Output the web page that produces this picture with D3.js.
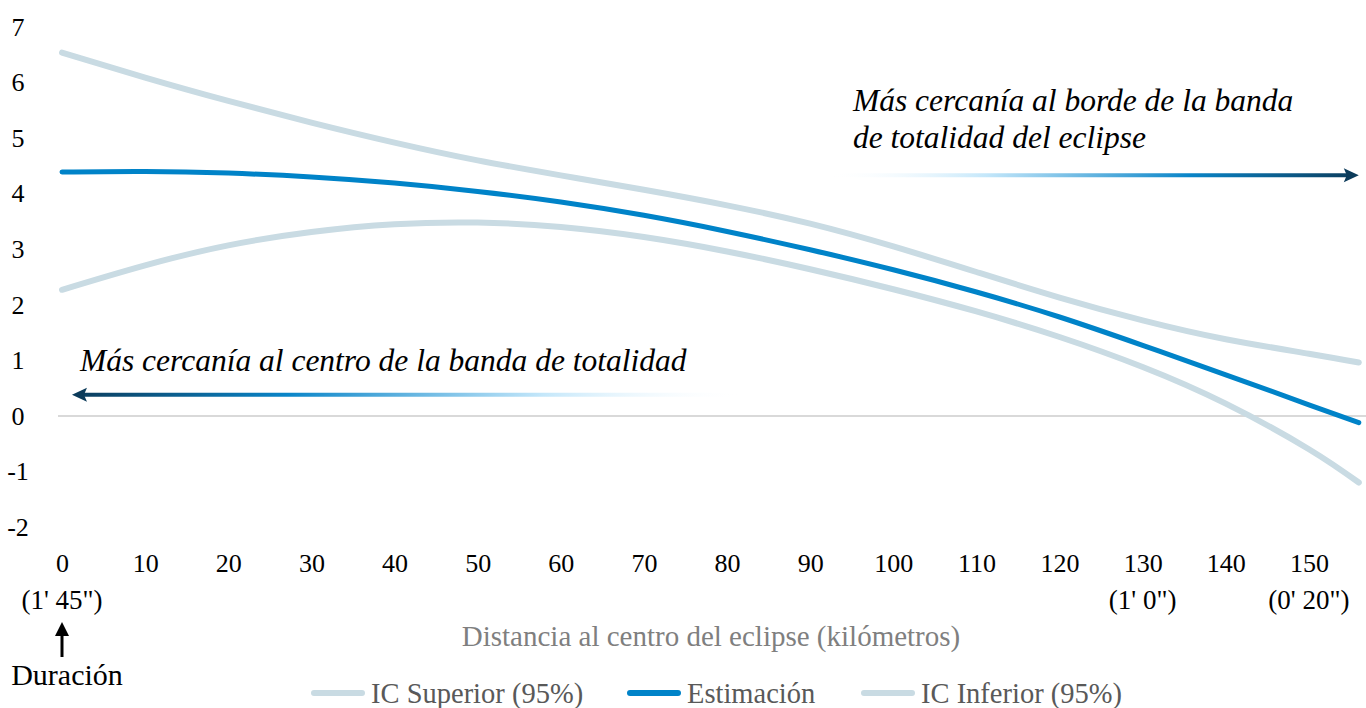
<!DOCTYPE html>
<html>
<head>
<meta charset="utf-8">
<script src="https://cdn.jsdelivr.net/npm/d3@7"></script>
<style>
  body { margin: 0; background: #fff; }
  svg { display: block; font-family: "Liberation Serif", serif; }
</style>
</head>
<body>
<svg id="canvas"></svg>
<script>
// distance to eclipse centre (km) and the three series
let distKm = [0, 10, 20, 30, 40, 50, 60, 70, 80, 90, 100, 110, 120, 130, 140, 150, 156]
let icSup  = [6.54, 6.09, 5.67, 5.28, 4.92, 4.60, 4.33, 4.07, 3.79, 3.46, 3.05, 2.59, 2.13, 1.72, 1.38, 1.12, 0.96]
let estim  = [4.39, 4.40, 4.37, 4.30, 4.19, 4.04, 3.85, 3.61, 3.32, 2.99, 2.63, 2.23, 1.78, 1.27, 0.74, 0.20, -0.12]
let icInf  = [2.27, 2.71, 3.07, 3.31, 3.45, 3.48, 3.40, 3.22, 2.96, 2.64, 2.28, 1.88, 1.42, 0.88, 0.22, -0.60, -1.20]

let xTicks = [0, 10, 20, 30, 40, 50, 60, 70, 80, 90, 100, 110, 120, 130, 140, 150]
let yTicks = [-2, -1, 0, 1, 2, 3, 4, 5, 6, 7]
let durLabels = [[0, "(1' 45\")"], [130, "(1' 0\")"], [150, "(0' 20\")"]]

let seriesNames = ['IC Superior (95%)', 'Estimación', 'IC Inferior (95%)']

let width = 1366
let height = 708

let ciColor = '#c9dbe3'
let estColor = '#0083c8'

let canvas = d3.select('#canvas')
canvas.attr('width', width).attr('height', height)

let xScale = d3.scaleLinear().domain([0, 156]).range([62, 1358.8])
let yScale = d3.scaleLinear().domain([-2, 7]).range([527, 27])

// zero gridline
canvas.append('line')
      .attr('x1', xScale(0) - 4).attr('x2', width)
      .attr('y1', yScale(0)).attr('y2', yScale(0))
      .attr('stroke', '#d9d9d9').attr('stroke-width', 2)

// y axis labels
let yAxis = d3.axisLeft(yScale).tickValues(yTicks).tickSize(0).tickPadding(0)
              .tickFormat(d => String(d))
let gy = canvas.append('g').attr('transform', 'translate(18,0)').call(yAxis)
gy.select('.domain').remove()
gy.selectAll('text')
  .attr('text-anchor', 'middle')
  .style('font-family', '"Liberation Serif", serif')
  .style('font-size', '26px')
  .attr('fill', '#000')

// x axis labels
let xAxis = d3.axisBottom(xScale).tickValues(xTicks).tickSize(0).tickPadding(0)
let gx = canvas.append('g').attr('transform', 'translate(0,554)').call(xAxis)
gx.select('.domain').remove()
gx.selectAll('text')
  .style('font-family', '"Liberation Serif", serif')
  .style('font-size', '26px')
  .attr('fill', '#000')

canvas.append('g').selectAll('text')
      .data(durLabels)
      .enter()
      .append('text')
      .attr('x', d => xScale(d[0]))
      .attr('y', 609)
      .attr('text-anchor', 'middle')
      .style('font-size', '27px')
      .text(d => d[1])

// axis title
canvas.append('text')
      .attr('x', 711).attr('y', 646)
      .attr('text-anchor', 'middle')
      .attr('fill', '#7f7f7f')
      .style('font-size', '29px')
      .text('Distancia al centro del eclipse (kilómetros)')

// Duración pointer
canvas.append('line')
      .attr('x1', xScale(0)).attr('x2', xScale(0))
      .attr('y1', 657).attr('y2', 632)
      .attr('stroke', '#000').attr('stroke-width', 3)
canvas.append('path')
      .attr('d', `M${xScale(0) - 7},636 L${xScale(0)},622 L${xScale(0) + 7},636 Z`)
      .attr('fill', '#000')
canvas.append('text')
      .attr('x', 67).attr('y', 685)
      .attr('text-anchor', 'middle')
      .style('font-size', '30px')
      .text('Duración')

// lines
let line = d3.line()
             .x((d, i) => xScale(distKm[i]))
             .y(d => yScale(d))
             .curve(d3.curveNatural)

let series = [
  {name: seriesNames[0], values: icSup, color: ciColor, w: 6},
  {name: seriesNames[1], values: estim, color: estColor, w: 5},
  {name: seriesNames[2], values: icInf, color: ciColor, w: 6}
]

canvas.append('g').selectAll('path')
      .data([series[0], series[2], series[1]])
      .enter()
      .append('path')
      .attr('d', d => line(d.values))
      .attr('fill', 'none')
      .attr('stroke', d => d.color)
      .attr('stroke-width', d => d.w)
      .attr('stroke-linecap', 'round')
      .attr('stroke-linejoin', 'round')

// gradient arrows
let defs = canvas.append('defs')
let makeGrad = (id, x1, x2) => {
  let g = defs.append('linearGradient')
              .attr('id', id)
              .attr('gradientUnits', 'userSpaceOnUse')
              .attr('x1', x1).attr('x2', x2).attr('y1', 0).attr('y2', 0)
  g.append('stop').attr('offset', 0).attr('stop-color', '#ffffff').attr('stop-opacity', 0)
  g.append('stop').attr('offset', 0.3).attr('stop-color', '#c4e7fa')
  g.append('stop').attr('offset', 0.68).attr('stop-color', '#0a85c8')
  g.append('stop').attr('offset', 1).attr('stop-color', '#0c3b5a')
}

let drawArrow = (id, xFrom, xTo, yVal) => {
  let x1 = xScale(xFrom), x2 = xScale(xTo), y = yScale(yVal)
  makeGrad(id, x1, x2)
  let dir = x2 > x1 ? 1 : -1
  canvas.append('line')
        .attr('x1', x1).attr('x2', x2 - dir * 10)
        .attr('y1', y).attr('y2', y)
        .attr('stroke', `url(#${id})`).attr('stroke-width', 4)
  canvas.append('path')
        .attr('d', `M${x2},${y} L${x2 - dir * 15},${y - 7} L${x2 - dir * 12},${y} L${x2 - dir * 15},${y + 7} Z`)
        .attr('fill', '#0c3b5a')
}
drawArrow('gradR', 92, 156, 4.33)
drawArrow('gradL', 82, 1.2, 0.38)

// annotation texts
let note = canvas.append('g')
                 .style('font-style', 'italic')
                 .style('font-size', '31.5px')
                 .attr('fill', '#000')
note.append('text').attr('x', 853).attr('y', 111).text('Más cercanía al borde de la banda')
note.append('text').attr('x', 853).attr('y', 148).text('de totalidad del eclipse')
note.append('text').attr('x', 80).attr('y', 371).text('Más cercanía al centro de la banda de totalidad')

// legend
let legendPos = [311, 627, 861]
let lg = canvas.append('g').selectAll('g')
               .data(series)
               .enter()
               .append('g')
               .attr('transform', (d, i) => `translate(${legendPos[i]},693)`)
lg.append('line')
  .attr('x1', 3).attr('x2', 51).attr('y1', 0).attr('y2', 0)
  .attr('stroke', d => d.color).attr('stroke-width', 6)
  .attr('stroke-linecap', 'round')
lg.append('text')
  .attr('x', 60).attr('y', 10)
  .attr('fill', '#595959')
  .style('font-size', '28.5px')
  .text(d => d.name)
</script>
</body>
</html>
